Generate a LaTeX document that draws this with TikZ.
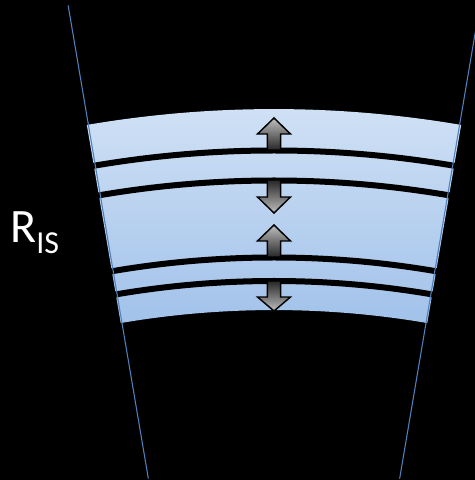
\documentclass[tikz,border=0pt]{standalone}
\usepackage{fontspec}
\newfontfamily\labelfont{Carlito}
\definecolor{bandtop}{HTML}{D0E1F5}
\definecolor{bandbot}{HTML}{A2C2EA}
\definecolor{rayblue}{HTML}{4F81BD}
\tikzset{
  gapline/.style={line width=4.5pt,black},
  ray/.style={line width=0.8pt,rayblue},
  flux/.style={draw=black,line width=1.1pt,line join=miter}
}

\begin{document}
\begin{tikzpicture}[x=0.75pt,y=0.75pt]
  \fill[black] (0,0) rectangle (475,480);
  \useasboundingbox (0,0) rectangle (475,480);
  \begin{scope}[shift={(274,-740)}]
    \shade[top color=bandtop,bottom color=bandbot] (80.3:910) arc[start angle=80.3,end angle=99.7,radius=910] -- (99.7:1111) arc[start angle=99.7,end angle=80.3,radius=1111] -- cycle;
    \foreach \r in {1069.5,1039.5,962.5,939}
      \draw[gapline] (80:\r) arc[start angle=80,end angle=100,radius=\r];
  \end{scope}
  % the four arrows: shaft end / head base / tip / top colour / bottom colour
  \foreach \s/\b/\t/\ct/\cb in {330/346/362/black!25/black!85,300/283/267/black!85/black!25,223/239/255/black!25/black!85,199/183/169/black!85/black!25}
    \shade[flux,top color=\ct,bottom color=\cb]
      (267.3,\s) -- (267.3,\b) -- (257.5,\b) -- (274,\t) -- (290.5,\b) -- (280.7,\b) -- (280.7,\s) -- cycle;
  \begin{scope}[shift={(274,-740)}]
    \draw[ray] (99.62:752) -- (99.62:1232);
    \draw[ray] (80.38:752) -- (80.38:1240);
  \end{scope}
  \node[anchor=base west,inner sep=0pt,text=white] (ris) at (10,238)
    {\labelfont\fontsize{36}{36}\selectfont R\raisebox{-8.5pt}{\fontsize{24}{24}\selectfont IS}};
\end{tikzpicture}
\end{document}
